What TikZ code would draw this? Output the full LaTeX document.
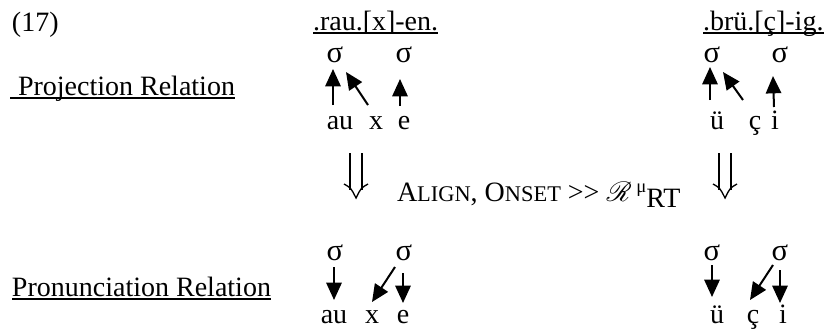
\documentclass[tikz,border=0pt]{standalone}
\usepackage{fontspec}
\setmainfont{Liberation Serif}
\usepackage{mathrsfs}
\usetikzlibrary{arrows.meta,calc}
\newcommand\mysc[1]{{\fontsize{16.8}{20}\selectfont #1}}
\begin{document}
\begin{tikzpicture}[x=0.75pt,y=-0.75pt,
  every node/.style={inner sep=0pt, outer sep=0pt, font=\fontsize{21}{25}\selectfont},
  txt/.style={anchor=base west},
  ctr/.style={anchor=base},
  sig/.style={anchor=base, font=\fontsize{23}{27}\selectfont},
  arr/.style={line width=1.5pt, -{Triangle[length=13pt,width=11.5pt]}},
  uline/.style={line width=1.3pt},
  dbl/.style={line width=1pt},
  dnarrow/.pic={
    \draw[dbl] (-6,0) -- (-6,37) (6,0) -- (6,37);
    \draw[dbl] (-12,31) .. controls (-5,35) .. (0,45) .. controls (5,35) .. (12,31);
  }]
\useasboundingbox (0,0) rectangle (827,329);

% headings
\node[txt] (n17) at (12,31) {(17)};
\node[txt] (w1) at (313,30) {.rau.[x]-en.};
\node[txt] (w2) at (703,30) {.brü.[ç]-ig.};
\draw[uline] ($(w1.base west)+(0,3)$) -- ($(w1.base east)+(0,3)$);
\draw[uline] ($(w2.base west)+(0,3)$) -- ($(w2.base east)+(0,3)$);

\node[txt] (proj) at (18,95) {Projection Relation};
\draw[uline] ($(proj.base west)+(-8,3)$) -- ($(proj.base east)+(0,3)$);
\node[txt] (pron) at (12,296) {Pronunciation Relation};
\draw[uline] ($(pron.base west)+(0,3)$) -- ($(pron.base east)+(0,3)$);

% top left
\node[sig] (s1) at (335,62) {σ};
\node[sig] (s2) at (404,62) {σ};
\node[ctr] (a1) at (340,129) {au};
\node[ctr] (x1) at (376,129) {x};
\node[ctr] (e1) at (404,129) {e};
\draw[arr] ($(a1.base)+(-7,-24)$) -- ($(s1.base)+(-2,7)$);
\draw[arr] ($(x1.base)+(-8,-24)$) -- ($(s1.base)+(11,10)$);
\draw[arr] ($(e1.base)+(-4,-23)$) -- ($(s2.base)+(-4,17)$);

% top right
\node[sig] (s3) at (712,62) {σ};
\node[sig] (s4) at (780,62) {σ};
\node[ctr] (u2) at (717,129) {ü};
\node[ctr] (c2) at (755,129) {ç};
\node[ctr] (i2) at (775,129) {i};
\draw[arr] ($(u2.base)+(-7,-29)$) -- ($(s3.base)+(-2,5)$);
\draw[arr] ($(c2.base)+(-12,-29)$) -- ($(s3.base)+(11,10)$);
\draw[arr] ($(i2.base)+(-1,-22)$) -- ($(s4.base)+(-7,14)$);

% middle
\pic at (356,153) {dnarrow};
\pic at (725,153) {dnarrow};
\node[txt] (rank) at (397,201) {A\mysc{LIGN}, O\mysc{NSET} >\kern0pt> $\mathscr{R}$\,\raisebox{0.3em}{\fontsize{14}{16}\selectfont μ}\raisebox{-0.22em}{RT}};

% bottom left
\node[sig] (s5) at (335,260) {σ};
\node[sig] (s6) at (404,260) {σ};
\node[ctr] (a3) at (334,323) {au};
\node[ctr] (x3) at (372,323) {x};
\node[ctr] (e3) at (403,323) {e};
\draw[arr] ($(s5.base)+(-1,7)$) -- ($(a3.base)+(0,-23)$);
\draw[arr] ($(s6.base)+(-9,7)$) -- ($(x3.base)+(0,-21)$);
\draw[arr] ($(s6.base)+(-1,13)$) -- ($(e3.base)+(0,-20)$);

% bottom right
\node[sig] (s7) at (712,260) {σ};
\node[sig] (s8) at (780,260) {σ};
\node[ctr] (u4) at (717,323) {ü};
\node[ctr] (c4) at (753,323) {ç};
\node[ctr] (i4) at (783,323) {i};
\draw[arr] ($(s7.base)+(0,5)$) -- ($(u4.base)+(-5,-26)$);
\draw[arr] ($(s8.base)+(-7,5)$) -- ($(c4.base)+(-3,-23)$);
\draw[arr] ($(s8.base)+(0,10)$) -- ($(i4.base)+(-3,-20)$);
\end{tikzpicture}
\end{document}
